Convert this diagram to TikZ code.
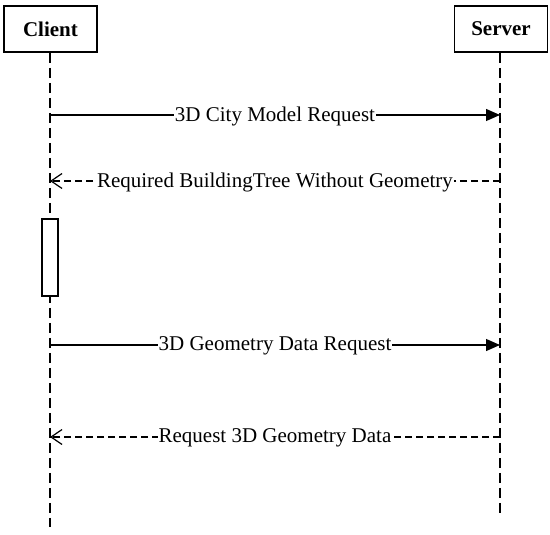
\documentclass[tikz,border=0pt]{standalone}
\usepackage{fontspec}
\setmainfont{Liberation Serif}
\usetikzlibrary{arrows.meta}
\begin{document}
\begin{tikzpicture}[x=1pt,y=-1pt,
  actor/.style={draw,line width=1.6pt,minimum width=93pt,minimum height=46pt,inner sep=0pt,font=\fontsize{21}{25}\selectfont\bfseries,fill=white},
  lifeline/.style={line width=1.5pt,dash pattern=on 10pt off 5pt},
  msg/.style={line width=1.2pt,-{Triangle[length=14pt,width=12pt]}},
  ret/.style={line width=1.2pt,dash pattern=on 7pt off 4pt,-{Straight Barb[length=11pt,width=15pt,line width=1.2pt]}},
  lbl/.style={fill=white,inner sep=1pt,font=\fontsize{21}{25}\selectfont},
  actbox/.style={draw,line width=1.4pt,fill=white}]
\useasboundingbox (0,0) rectangle (550,535);
\node[actor] (client) at (50.5,29) {Client};
\node[actor] (server) at (501,29) {Server};
\coordinate (cend) at (50,527);
\coordinate (send) at (500,516);
\draw[lifeline] (client.south -| cend) -- (cend);
\draw[lifeline] (server.south -| send) -- (send);
\node[actbox,minimum width=16pt,minimum height=77pt,inner sep=0pt] (act) at (50,257.5) {};
\coordinate (c1) at (50,115); \coordinate (s1) at (500,115);
\coordinate (c2) at (50,181); \coordinate (s2) at (500,181);
\coordinate (c3) at (50,345); \coordinate (s3) at (500,345);
\coordinate (c4) at (50,437); \coordinate (s4) at (500,437);
\draw[msg] (c1) -- node[lbl,yshift=-1pt] {3D City Model Request} (s1);
\draw[ret] (s2) -- node[lbl,yshift=-1pt] {Required BuildingTree Without Geometry} (c2);
\draw[msg] (c3) -- node[lbl,yshift=-1pt] {3D Geometry Data Request} (s3);
\draw[ret] (s4) -- node[lbl,yshift=-1pt] {Request 3D Geometry Data} (c4);
\end{tikzpicture}
\end{document}
